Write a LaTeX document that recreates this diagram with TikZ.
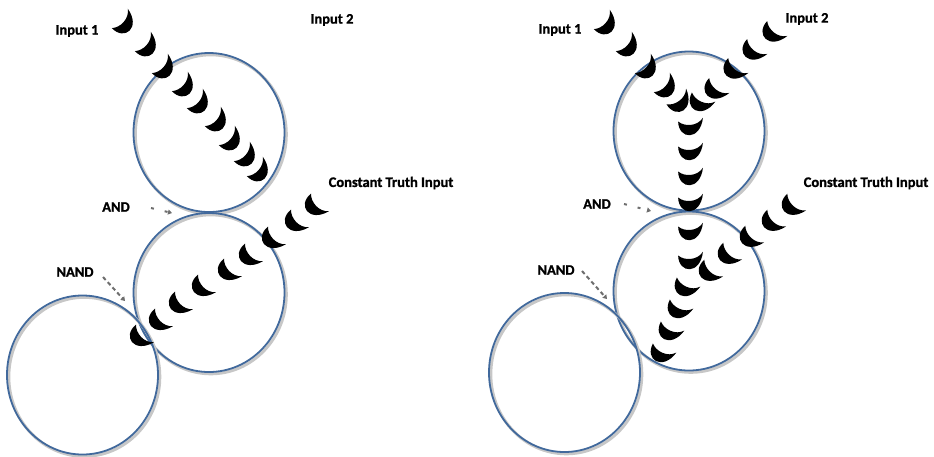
\documentclass[tikz,border=0pt]{standalone}
\usepackage{fontspec}
\setmainfont{Carlito}[BoldFeatures={FakeBold=1.2}]
\usetikzlibrary{arrows.meta}
\definecolor{ringblue}{HTML}{41699C}
\definecolor{pointergray}{HTML}{6E6E6E}
\tikzset{
  % one crescent "token", opening upwards; rotate it to follow its track
  moon/.pic={
    \fill[black, scale=1.08] (-11,-6) .. controls (-10.5,11) and (9.5,12) .. (12,-9.5)
                 .. controls (7,-1.5) and (-5,-1) .. (-11,-6) -- cycle;
  },
  ring/.style={draw=ringblue, line width=1.8pt},
  ringshade/.style={draw=black!22, line width=3pt},
  tag/.style={font=\bfseries\fontsize{14.5}{16}\selectfont, inner sep=0pt},
  pointer/.style={draw=pointergray, line width=2pt, dash pattern=on 4pt off 3pt,
                  -{Triangle[length=4pt,width=5pt]}},
  sparsepointer/.style={pointer, dash pattern=on 3pt off 11pt},
}
\newcommand{\gatering}[1]{%
  \draw[ringshade] ([shift={(1.8,1.8)}]#1) ellipse [x radius=75.5, y radius=79.5];
  \draw[ring] (#1) ellipse [x radius=75.5, y radius=79.5];}
\begin{document}
\begin{tikzpicture}[x=1pt, y=-1pt]
\useasboundingbox (0,0) rectangle (934,456);

% ---------- left panel ----------
\coordinate (andL)  at (209,132.5);
\coordinate (nandL) at (209,292.5);
\coordinate (outL)  at (82.5,375);
\gatering{andL}
\gatering{nandL}
\gatering{outL}

\node[tag] (in1L)  at (77,31)  {Input 1};
\node[tag] (in2L)  at (332,20) {Input 2};
\node[tag] (ctL)   at (391,183) {Constant Truth Input};
\node[tag] (andtL) at (116,207) {AND};
\node[tag] (nandtL) at (75,272) {NAND};

\coordinate (andsL)  at (151,208);
\coordinate (andeL)  at (172,213);
\coordinate (nandsL) at (103,277);
\coordinate (nandeL) at (125,301);
\draw[sparsepointer] (andsL) -- (andeL);
\draw[pointer] (nandsL) -- (nandeL);

% Input 1 track
\foreach \p in {(125,25),(148,48),(165,70),(185,88),(200,105),(218,123),(232,142),(247,158),(260,173)}
  \pic[rotate=42] at \p {moon};
% constant truth track
\foreach \p in {(313,207),(293,223),(270,240),(247,257),(226,272),(200,288),(177,305),(157,322),(138,338)}
  \pic[rotate=-53] at \p {moon};

% ---------- right panel ----------
\coordinate (andR)  at (689,131);
\coordinate (nandR) at (689,291);
\coordinate (outR)  at (564.5,372.5);
\gatering{andR}
\gatering{nandR}
\gatering{outR}

\node[tag] (in1R)  at (560,30)  {Input 1};
\node[tag] (in2R)  at (807,19)  {Input 2};
\node[tag] (ctR)   at (866,183) {Constant Truth Input};
\node[tag] (andtR) at (597,204) {AND};
\node[tag] (nandtR) at (556,270) {NAND};

\coordinate (andsR)  at (624,204);
\coordinate (andeR)  at (651,211);
\coordinate (nandsR) at (582,271);
\coordinate (nandeR) at (607,299);
\draw[sparsepointer] (andsR) -- (andeR);
\draw[pointer] (nandsR) -- (nandeR);

% Input 1 track
\foreach \p in {(607,26),(629,48),(648,70),(667,89)}
  \pic[rotate=42] at \p {moon};
% Input 2 track
\foreach \p in {(771,34),(751,52),(732,71),(713,91)}
  \pic[rotate=-45] at \p {moon};
% the two tracks meet
\pic[rotate=30]  at (680,104) {moon};
\pic[rotate=-30] at (699,104) {moon};
% AND output going down
\foreach \p in {(690,128),(690,153),(690,178),(690,204),(690,233),(690,262)}
  \pic at \p {moon};
% constant truth track
\foreach \p in {(790,207),(770,223),(748,239),(726,256),(707,273)}
  \pic[rotate=-50] at \p {moon};
% NAND output
\foreach \p in {(684,289),(677,311),(668,333),(660,355)}
  \pic[rotate=-30] at \p {moon};
\end{tikzpicture}
\end{document}
